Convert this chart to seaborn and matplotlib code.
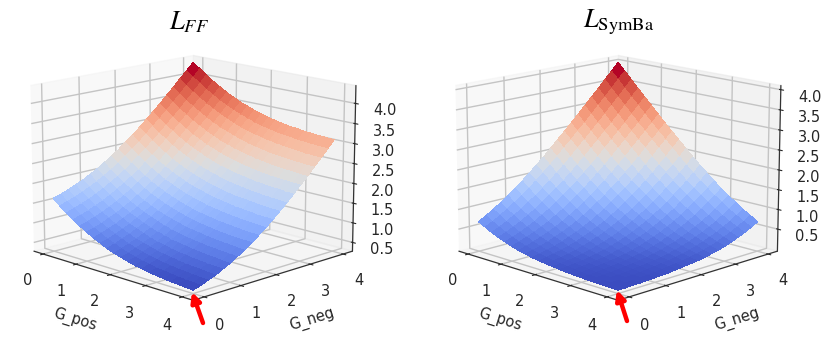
import numpy as np
import matplotlib
matplotlib.use("Agg")
import matplotlib.pyplot as plt
import seaborn as sns
from matplotlib.patches import FancyArrowPatch

# grid, 20 facets per side
g_pos = [0.0, 0.2, 0.4, 0.6, 0.8, 1.0, 1.2, 1.4, 1.6, 1.8, 2.0, 2.2, 2.4, 2.6, 2.8, 3.0, 3.2, 3.4, 3.6, 3.8, 4.0]
g_neg = [0.0, 0.2, 0.4, 0.6, 0.8, 1.0, 1.2, 1.4, 1.6, 1.8, 2.0, 2.2, 2.4, 2.6, 2.8, 3.0, 3.2, 3.4, 3.6, 3.8, 4.0]

# one row per G_pos, one column per G_neg
loss_ff = [
    [1.63,1.68,1.75,1.83,1.91,2.01,2.11,2.23,2.35,2.48,2.63,2.78,2.93,3.10,3.27,3.44,3.62,3.80,3.99,4.17,4.36],
    [1.48,1.54,1.61,1.68,1.77,1.86,1.97,2.08,2.21,2.34,2.48,2.63,2.79,2.96,3.12,3.30,3.48,3.66,3.84,4.03,4.22],
    [1.35,1.41,1.48,1.55,1.64,1.73,1.84,1.95,2.07,2.21,2.35,2.50,2.66,2.82,2.99,3.16,3.34,3.52,3.71,3.90,4.09],
    [1.23,1.28,1.35,1.43,1.51,1.61,1.71,1.83,1.95,2.08,2.23,2.38,2.53,2.70,2.87,3.04,3.22,3.40,3.59,3.77,3.96],
    [1.11,1.17,1.24,1.31,1.40,1.49,1.60,1.71,1.84,1.97,2.11,2.26,2.42,2.58,2.75,2.93,3.10,3.29,3.47,3.66,3.85],
    [1.01,1.06,1.13,1.21,1.29,1.39,1.49,1.61,1.73,1.86,2.01,2.16,2.31,2.48,2.65,2.82,3.00,3.18,3.37,3.55,3.74],
    [0.91,0.97,1.04,1.11,1.20,1.29,1.40,1.51,1.64,1.77,1.91,2.06,2.22,2.38,2.55,2.73,2.90,3.09,3.27,3.46,3.65],
    [0.83,0.88,0.95,1.03,1.11,1.21,1.31,1.43,1.55,1.68,1.83,1.98,2.13,2.30,2.47,2.64,2.82,3.00,3.19,3.37,3.56],
    [0.75,0.81,0.88,0.95,1.04,1.13,1.24,1.35,1.48,1.61,1.75,1.90,2.06,2.22,2.39,2.57,2.74,2.93,3.11,3.30,3.49],
    [0.68,0.74,0.81,0.88,0.97,1.06,1.17,1.28,1.41,1.54,1.68,1.83,1.99,2.16,2.32,2.50,2.68,2.86,3.04,3.23,3.42],
    [0.63,0.68,0.75,0.83,0.91,1.01,1.11,1.23,1.35,1.48,1.63,1.78,1.93,2.10,2.27,2.44,2.62,2.80,2.99,3.17,3.36],
    [0.58,0.63,0.70,0.78,0.86,0.96,1.06,1.18,1.30,1.43,1.58,1.73,1.88,2.05,2.22,2.39,2.57,2.75,2.94,3.12,3.31],
    [0.53,0.59,0.66,0.73,0.82,0.91,1.02,1.13,1.26,1.39,1.53,1.68,1.84,2.00,2.17,2.35,2.53,2.71,2.89,3.08,3.27],
    [0.50,0.56,0.62,0.70,0.78,0.88,0.98,1.10,1.22,1.36,1.50,1.65,1.80,1.97,2.14,2.31,2.49,2.67,2.86,3.04,3.23],
    [0.47,0.52,0.59,0.67,0.75,0.85,0.95,1.07,1.19,1.32,1.47,1.62,1.77,1.94,2.11,2.28,2.46,2.64,2.83,3.01,3.20],
    [0.44,0.50,0.57,0.64,0.73,0.82,0.93,1.04,1.16,1.30,1.44,1.59,1.75,1.91,2.08,2.25,2.43,2.61,2.80,2.99,3.18],
    [0.42,0.48,0.54,0.62,0.70,0.80,0.90,1.02,1.14,1.28,1.42,1.57,1.73,1.89,2.06,2.23,2.41,2.59,2.78,2.96,3.15],
    [0.40,0.46,0.53,0.60,0.69,0.78,0.89,1.00,1.12,1.26,1.40,1.55,1.71,1.87,2.04,2.21,2.39,2.57,2.76,2.95,3.14],
    [0.39,0.44,0.51,0.59,0.67,0.77,0.87,0.99,1.11,1.24,1.39,1.53,1.69,1.86,2.03,2.20,2.38,2.56,2.74,2.93,3.12],
    [0.37,0.43,0.50,0.57,0.66,0.75,0.86,0.97,1.10,1.23,1.37,1.52,1.68,1.84,2.01,2.19,2.36,2.55,2.73,2.92,3.11],
    [0.36,0.42,0.49,0.56,0.65,0.74,0.85,0.96,1.09,1.22,1.36,1.51,1.67,1.83,2.00,2.18,2.35,2.54,2.72,2.91,3.10],
]

loss_symba = [
    [0.69,0.80,0.91,1.04,1.17,1.31,1.46,1.62,1.78,1.95,2.13,2.31,2.49,2.67,2.86,3.05,3.24,3.43,3.63,3.82,4.02],
    [0.60,0.69,0.80,0.91,1.04,1.17,1.31,1.46,1.62,1.78,1.95,2.13,2.31,2.49,2.67,2.86,3.05,3.24,3.43,3.63,3.82],
    [0.51,0.60,0.69,0.80,0.91,1.04,1.17,1.31,1.46,1.62,1.78,1.95,2.13,2.31,2.49,2.67,2.86,3.05,3.24,3.43,3.63],
    [0.44,0.51,0.60,0.69,0.80,0.91,1.04,1.17,1.31,1.46,1.62,1.78,1.95,2.13,2.31,2.49,2.67,2.86,3.05,3.24,3.43],
    [0.37,0.44,0.51,0.60,0.69,0.80,0.91,1.04,1.17,1.31,1.46,1.62,1.78,1.95,2.13,2.31,2.49,2.67,2.86,3.05,3.24],
    [0.31,0.37,0.44,0.51,0.60,0.69,0.80,0.91,1.04,1.17,1.31,1.46,1.62,1.78,1.95,2.13,2.31,2.49,2.67,2.86,3.05],
    [0.26,0.31,0.37,0.44,0.51,0.60,0.69,0.80,0.91,1.04,1.17,1.31,1.46,1.62,1.78,1.95,2.13,2.31,2.49,2.67,2.86],
    [0.22,0.26,0.31,0.37,0.44,0.51,0.60,0.69,0.80,0.91,1.04,1.17,1.31,1.46,1.62,1.78,1.95,2.13,2.31,2.49,2.67],
    [0.18,0.22,0.26,0.31,0.37,0.44,0.51,0.60,0.69,0.80,0.91,1.04,1.17,1.31,1.46,1.62,1.78,1.95,2.13,2.31,2.49],
    [0.15,0.18,0.22,0.26,0.31,0.37,0.44,0.51,0.60,0.69,0.80,0.91,1.04,1.17,1.31,1.46,1.62,1.78,1.95,2.13,2.31],
    [0.13,0.15,0.18,0.22,0.26,0.31,0.37,0.44,0.51,0.60,0.69,0.80,0.91,1.04,1.17,1.31,1.46,1.62,1.78,1.95,2.13],
    [0.11,0.13,0.15,0.18,0.22,0.26,0.31,0.37,0.44,0.51,0.60,0.69,0.80,0.91,1.04,1.17,1.31,1.46,1.62,1.78,1.95],
    [0.09,0.11,0.13,0.15,0.18,0.22,0.26,0.31,0.37,0.44,0.51,0.60,0.69,0.80,0.91,1.04,1.17,1.31,1.46,1.62,1.78],
    [0.07,0.09,0.11,0.13,0.15,0.18,0.22,0.26,0.31,0.37,0.44,0.51,0.60,0.69,0.80,0.91,1.04,1.17,1.31,1.46,1.62],
    [0.06,0.07,0.09,0.11,0.13,0.15,0.18,0.22,0.26,0.31,0.37,0.44,0.51,0.60,0.69,0.80,0.91,1.04,1.17,1.31,1.46],
    [0.05,0.06,0.07,0.09,0.11,0.13,0.15,0.18,0.22,0.26,0.31,0.37,0.44,0.51,0.60,0.69,0.80,0.91,1.04,1.17,1.31],
    [0.04,0.05,0.06,0.07,0.09,0.11,0.13,0.15,0.18,0.22,0.26,0.31,0.37,0.44,0.51,0.60,0.69,0.80,0.91,1.04,1.17],
    [0.03,0.04,0.05,0.06,0.07,0.09,0.11,0.13,0.15,0.18,0.22,0.26,0.31,0.37,0.44,0.51,0.60,0.69,0.80,0.91,1.04],
    [0.03,0.03,0.04,0.05,0.06,0.07,0.09,0.11,0.13,0.15,0.18,0.22,0.26,0.31,0.37,0.44,0.51,0.60,0.69,0.80,0.91],
    [0.02,0.03,0.03,0.04,0.05,0.06,0.07,0.09,0.11,0.13,0.15,0.18,0.22,0.26,0.31,0.37,0.44,0.51,0.60,0.69,0.80],
    [0.02,0.02,0.03,0.03,0.04,0.05,0.06,0.07,0.09,0.11,0.13,0.15,0.18,0.22,0.26,0.31,0.37,0.44,0.51,0.60,0.69],
]

xy_ticks = [0, 1, 2, 3, 4]
z_ticks = [0.5, 1.0, 1.5, 2.0, 2.5, 3.0, 3.5, 4.0]

sns.set_style("white")
plt.rcParams['grid.color'] = '#c4c4c4'
plt.rcParams['grid.linewidth'] = 1.0
plt.rcParams['axes.linewidth'] = 0.9
plt.rcParams['axes.edgecolor'] = '#333333'
plt.rcParams['text.color'] = '#262626'
plt.rcParams['axes.labelcolor'] = '#262626'
plt.rcParams['xtick.color'] = '#262626'
plt.rcParams['ytick.color'] = '#262626'
plt.rcParams['mathtext.fontset'] = 'stix'

W, H = 830, 361
coolwarm = sns.color_palette("coolwarm", as_cmap=True)
fig = plt.figure(figsize=(W / 100, H / 100), dpi=100)


def draw_surface(rect, loss):
    ax = fig.add_axes(rect, projection='3d')
    X, Y = np.meshgrid(g_pos, g_neg, indexing='ij')
    ax.plot_surface(X, Y, np.array(loss), cmap=coolwarm, rstride=1, cstride=1,
                    linewidth=0, antialiased=False)
    ax.view_init(elev=14, azim=-45)
    ax.set_xticks(xy_ticks)
    ax.set_yticks(xy_ticks)
    ax.set_zticks(z_ticks)
    ax.tick_params(labelsize=10.5, pad=4)
    ax.set_xlabel('G_pos', fontsize=10.5, labelpad=6)
    ax.set_ylabel('G_neg', fontsize=10.5, labelpad=6)
    ax.patch.set_alpha(0)
    return ax


draw_surface([-0.023, 0.028, 0.5, 0.98], loss_ff)
draw_surface([0.489, 0.028, 0.5, 0.98], loss_symba)

fig.text(189 / W, 1 - 22 / H, r'$L_{FF}$', fontsize=19, ha='center', va='center', color='black')
fig.text(619 / W, 1 - 22 / H, r'$L_{\mathrm{SymBa}}$', fontsize=19, ha='center', va='center', color='black')

# the two red arrows under the low corner
for start, end in [((203, 323), (192, 292)), ((627, 321), (617, 290))]:
    fig.add_artist(FancyArrowPatch((start[0] / W, 1 - start[1] / H), (end[0] / W, 1 - end[1] / H),
                                   transform=fig.transFigure, color='#ff0000', lw=3.2,
                                   arrowstyle='-|>', mutation_scale=14, shrinkA=0, shrinkB=0))

plt.savefig('out.png', dpi=100)
